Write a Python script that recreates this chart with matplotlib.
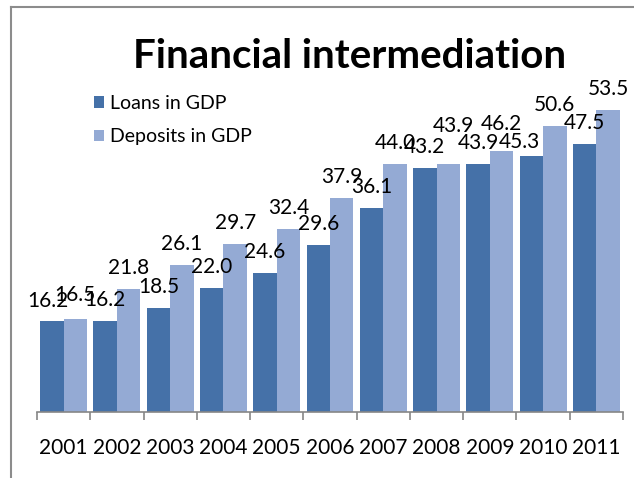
import numpy as np
import matplotlib
matplotlib.use('Agg')
import matplotlib.pyplot as plt
from matplotlib.lines import Line2D

years = ['2001', '2002', '2003', '2004', '2005', '2006', '2007', '2008', '2009', '2010', '2011']
loans = [16.2, 16.2, 18.5, 22.0, 24.6, 29.6, 36.1, 43.2, 43.9, 45.3, 47.5]
deposits = [16.5, 21.8, 26.1, 29.7, 32.4, 37.9, 44.0, 43.9, 46.2, 50.6, 53.5]

dark_blue = '#4571A8'
light_blue = '#94AAD4'

# a few labels were dragged by hand to stop them overlapping (pixels: dx, dy)
label_nudge = {
    ('loans', 0): (-4, -1),
    ('deposits', 0): (0, 3),
    ('deposits', 7): (5, 17),
    ('deposits', 8): (0, 6),
    ('loans', 9): (-12, -7),
}

plt.rcParams['font.family'] = ['Lato', 'DejaVu Sans']

W, H = 634, 478
fig = plt.figure(figsize=(W / 100, H / 100), dpi=100)

# axes box in pixels: left 37, right 623, baseline 412, 0..60 -> 5.645 px per unit
ax_left, ax_right, ax_base = 37, 623, 412
ax_h = 60 * 5.645
ax = fig.add_axes([ax_left / W, (H - ax_base) / H, (ax_right - ax_left) / W, ax_h / H])

x = np.arange(len(years))
w = 0.44
b1 = ax.bar(x - w / 2, loans, w, color=dark_blue, label='Loans in GDP')
b2 = ax.bar(x + w / 2, deposits, w, color=light_blue, label='Deposits in GDP')

px = 72 / 100  # points per pixel
for name, bars, vals in [('loans', b1, loans), ('deposits', b2, deposits)]:
    for i, (bar, v) in enumerate(zip(bars, vals)):
        dx, dy = label_nudge.get((name, i), (0, 0))
        ax.annotate(f'{v:.1f}', (bar.get_x() + bar.get_width() / 2, v),
                    xytext=(dx * px, (15 + dy) * px), textcoords='offset points',
                    ha='center', va='baseline', fontsize=15, color='black',
                    annotation_clip=False)

ax.set_xlim(-0.5, len(years) - 0.5)
ax.set_ylim(0, 60)
ax.set_yticks([])
for s in ['top', 'right', 'left']:
    ax.spines[s].set_visible(False)
ax.spines['bottom'].set_color('#868686')
ax.spines['bottom'].set_linewidth(1.2)

ax.set_xticks(x)
ax.set_xticklabels(years, fontsize=15)
ax.tick_params(axis='x', which='major', length=0, pad=19)
ax.set_xticks(np.arange(-0.5, len(years)), minor=True)
ax.tick_params(axis='x', which='minor', length=6, width=1.2, color='#868686')

leg = fig.legend(handles=[b1, b2], loc='upper left',
                 bbox_to_anchor=(86 / W, 1 - 87 / H), frameon=False,
                 fontsize=14, handlelength=0.55, handleheight=0.55,
                 handletextpad=0.3, labelspacing=0.85, borderaxespad=0)

fig.text(350 / W, 1 - 56 / H, 'Financial intermediation', ha='center', va='center',
         fontsize=29, fontweight='bold')

# chart area border (only the top and left edges fall inside the image)
fx, fy = 10.5 / W, 1 - 7 / H
fig.add_artist(Line2D([fx, fx], [0, fy], color='#8C8C8C', lw=1.5, transform=fig.transFigure))
fig.add_artist(Line2D([fx, 1], [fy, fy], color='#8C8C8C', lw=1.5, transform=fig.transFigure))

fig.savefig('out.png', dpi=100)
